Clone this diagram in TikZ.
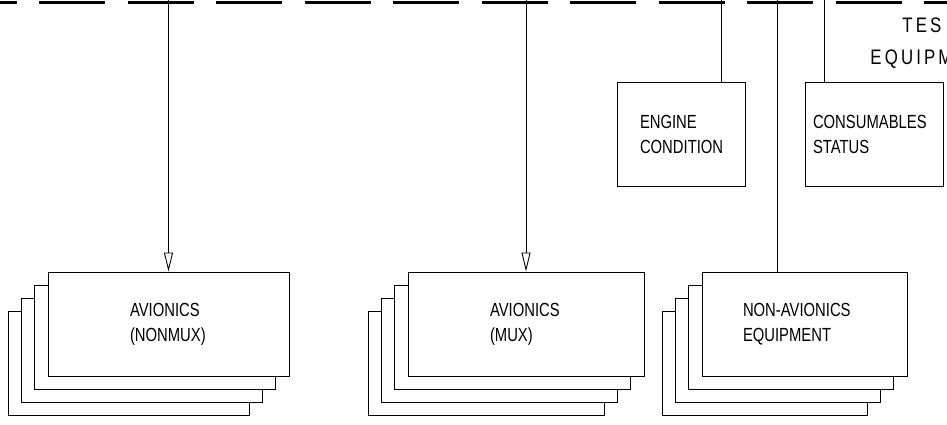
\documentclass[tikz,border=0pt]{standalone}
\usepackage{fontspec}
\newfontfamily\cadfont[FakeStretch=0.78]{Liberation Sans}
\newfontfamily\cadwide[FakeStretch=0.8,LetterSpace=15]{Liberation Sans}
\usetikzlibrary{arrows.meta,positioning}

\begin{document}
\begin{tikzpicture}[x=1pt,y=-1pt,line width=0.9pt,
   unit/.style={draw,fill=white,minimum height=104pt,inner sep=0pt},
   lbl/.style={anchor=west,inner sep=0pt,align=left,
               font=\cadfont\fontsize{19}{25}\selectfont},
   ttl/.style={anchor=base west,inner sep=0pt,
               font=\cadwide\fontsize{21}{25}\selectfont},
   bus/.style={line width=3pt,dash pattern=on 66pt off 22.5pt},
   feed/.style={-{Triangle[open,length=19pt,width=9pt]}}]
  \clip (0,0) rectangle (947,424);
  % test bus along the top
  \coordinate (busL) at (-49.5,2.5);
  \coordinate (busR) at (990,2.5);
  \draw[bus] (busL) -- (busR);
  \node[ttl] (tes) at (902,32) {TES};
  \node[ttl] (equ) at (870,64) {EQUIPM};
  % stacked units
  \foreach \k in {3,2,1}
    \node[unit,minimum width=241pt] at ({168.5-13.3*\k},{324+13.3*\k}) {};
  \node[unit,minimum width=241pt] (nonmux) at (168.5,324) {};
  \foreach \k in {3,2,1}
    \node[unit,minimum width=236pt] at ({526-13.3*\k},{324+13.3*\k}) {};
  \node[unit,minimum width=236pt] (mux) at (526,324) {};
  \foreach \k in {3,2,1}
    \node[unit,minimum width=205pt] at ({804.5-13.3*\k},{324+13.3*\k}) {};
  \node[unit,minimum width=205pt] (nonav) at (804.5,324) {};
  % single units
  \node[unit,minimum width=128pt] (engine) at (681,134) {};
  \node[unit,minimum width=138pt] (consum) at (874,134) {};
  % labels
  \node[lbl] at ([xshift=82pt]nonmux.west) {AVIONICS\\(NONMUX)};
  \node[lbl] at ([xshift=82pt]mux.west) {AVIONICS\\(MUX)};
  \node[lbl] at ([xshift=41pt]nonav.west) {NON-AVIONICS\\EQUIPMENT};
  \node[lbl] at ([xshift=23pt]engine.west) {ENGINE\\CONDITION};
  \node[lbl] at ([xshift=8pt]consum.west) {CONSUMABLES\\STATUS};
  % taps off the bus
  \coordinate (t1) at (168.5,0);
  \coordinate (t2) at (526,0);
  \coordinate (t3) at (777,0);
  \coordinate (t4) at (721,0);
  \coordinate (t5) at (824,0);
  \draw[feed] (t1) -- (nonmux.north);
  \draw[feed] (t2) -- (mux.north);
  \draw (t3) -- (t3 |- nonav.north);
  \draw (t4) -- (t4 |- engine.north);
  \draw (t5) -- (t5 |- consum.north);
\end{tikzpicture}
\end{document}
